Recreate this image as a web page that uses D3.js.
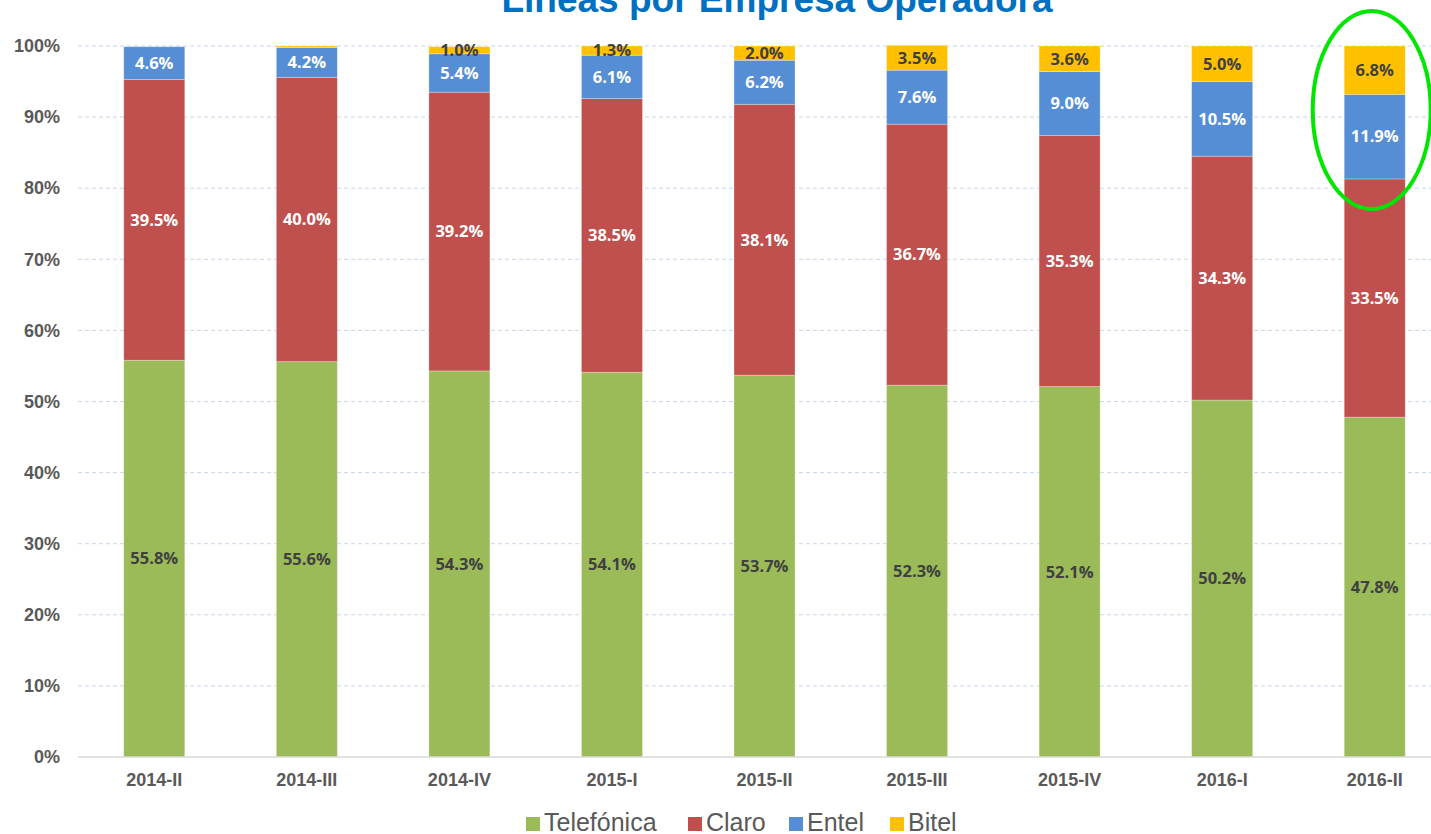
<!DOCTYPE html>
<html>
<head>
<meta charset="utf-8">
<script src="https://cdn.jsdelivr.net/npm/d3@7"></script>
<style>
  body { margin: 0; background: #fff; }
  svg { display: block; }
</style>
</head>
<body>
<svg id="chart" width="1431" height="834"></svg>
<script>
var periods = ["2014-II", "2014-III", "2014-IV", "2015-I", "2015-II", "2015-III", "2015-IV", "2016-I", "2016-II"];
var telefonica = [55.8, 55.6, 54.3, 54.1, 53.7, 52.3, 52.1, 50.2, 47.8];
var claro = [39.5, 40.0, 39.2, 38.5, 38.1, 36.7, 35.3, 34.3, 33.5];
var entel = [4.6, 4.2, 5.4, 6.1, 6.2, 7.6, 9.0, 10.5, 11.9];
var bitel = [0, 0.2, 1.0, 1.3, 2.0, 3.5, 3.6, 5.0, 6.8];
var yTicks = [0, 10, 20, 30, 40, 50, 60, 70, 80, 90, 100];

var series = [
  { name: "Telefónica", values: telefonica, color: "#9BBB59", text: "#404040" },
  { name: "Claro", values: claro, color: "#C0504D", text: "#ffffff" },
  { name: "Entel", values: entel, color: "#558ED5", text: "#ffffff" },
  { name: "Bitel", values: bitel, color: "#FFC000", text: "#404040" }
];

var svg = d3.select("#chart"),
    MARGINS = { top: 46, bottom: 77, left: 78, right: -20 },
    WIDTH = 1431, HEIGHT = 834;

var rows = periods.map(function(p, i) {
  var r = { period: p };
  series.forEach(function(s) { r[s.name] = s.values[i]; });
  return r;
});
var stacked = d3.stack().keys(series.map(function(s) { return s.name; }))(rows);

var xScale = d3.scaleBand().domain(periods)
  .range([MARGINS.left, WIDTH - MARGINS.right]).paddingInner(0.6).paddingOuter(0.3);
var yScale = d3.scaleLinear().domain([0, 100]).range([HEIGHT - MARGINS.bottom, MARGINS.top]);

// title (its top is cut off in the original too)
svg.append("text")
  .attr("x", 777).attr("y", 12)
  .attr("text-anchor", "middle")
  .style("font-family", "Liberation Sans, Arial, sans-serif")
  .style("font-weight", "bold").style("font-size", "37px")
  .attr("fill", "#0070C0")
  .text("Líneas por Empresa Operadora");

// gridlines
svg.append("g").selectAll("line").data(yTicks.filter(function(t) { return t > 0; }))
  .enter().append("line")
  .attr("x1", MARGINS.left).attr("x2", WIDTH)
  .attr("y1", function(d) { return yScale(d); }).attr("y2", function(d) { return yScale(d); })
  .attr("stroke", "#C9D5E8").attr("stroke-width", 1).attr("stroke-dasharray", "4,3");

var yAxis = d3.axisLeft(yScale).tickValues(yTicks).tickSize(0).tickPadding(18)
  .tickFormat(function(d) { return d + "%"; });
var gy = svg.append("g").attr("transform", "translate(" + MARGINS.left + ",0)").call(yAxis);
gy.select(".domain").remove();
gy.selectAll("text").style("font-family", "Liberation Sans, Arial, sans-serif")
  .style("font-weight", "bold").style("font-size", "18px").attr("fill", "#595959");

// bars
series.forEach(function(s, k) {
  svg.append("g").selectAll("rect").data(stacked[k]).enter().append("rect")
    .attr("x", function(d) { return xScale(d.data.period); })
    .attr("width", xScale.bandwidth())
    .attr("y", function(d) { return yScale(d[1]); })
    .attr("height", function(d) { return yScale(d[0]) - yScale(d[1]); })
    .attr("fill", s.color)
    .attr("stroke", "#ffffff").attr("stroke-opacity", 0.35).attr("stroke-width", 0.8);
});

// baseline
svg.append("line").attr("x1", MARGINS.left).attr("x2", WIDTH)
  .attr("y1", yScale(0)).attr("y2", yScale(0))
  .attr("stroke", "#D9D9D9").attr("stroke-width", 1.5);

// value labels
series.forEach(function(s, k) {
  svg.append("g").selectAll("text").data(stacked[k].filter(function(d) { return d[1] - d[0] >= 0.5; }))
    .enter().append("text")
    .attr("x", function(d) { return xScale(d.data.period) + xScale.bandwidth() / 2; })
    .attr("y", function(d) { return (yScale(d[0]) + yScale(d[1])) / 2; })
    .attr("dy", "0.35em")
    .attr("text-anchor", "middle")
    .style("font-family", "Open Sans, sans-serif")
    .style("font-weight", "bold").style("font-size", "16.5px")
    .attr("fill", s.text)
    .text(function(d) { return (d[1] - d[0]).toFixed(1) + "%"; });
});

// x axis
var xAxis = d3.axisBottom(xScale).tickSize(0).tickPadding(16);
var gx = svg.append("g").attr("transform", "translate(0," + yScale(0) + ")").call(xAxis);
gx.select(".domain").remove();
gx.selectAll("text").style("font-family", "Liberation Sans, Arial, sans-serif")
  .style("font-weight", "bold").style("font-size", "18px").attr("fill", "#595959");

// legend
var legendX = [526, 688, 789, 890];
var legend = svg.append("g");
series.forEach(function(s, i) {
  var g = legend.append("g").attr("transform", "translate(" + legendX[i] + ",831)");
  g.append("rect").attr("x", 0).attr("y", -14).attr("width", 14).attr("height", 14).attr("fill", s.color);
  g.append("text").attr("x", 18).attr("y", 0)
    .style("font-family", "Liberation Sans, Arial, sans-serif").style("font-size", "25px")
    .attr("fill", "#595959").text(s.name);
});

// highlight ellipse around last bar
svg.append("ellipse")
  .attr("cx", xScale("2016-II") + xScale.bandwidth() / 2 - 3).attr("cy", 110)
  .attr("rx", 59).attr("ry", 99)
  .attr("fill", "none").attr("stroke", "#00E600").attr("stroke-width", 4);
</script>
</body>
</html>
